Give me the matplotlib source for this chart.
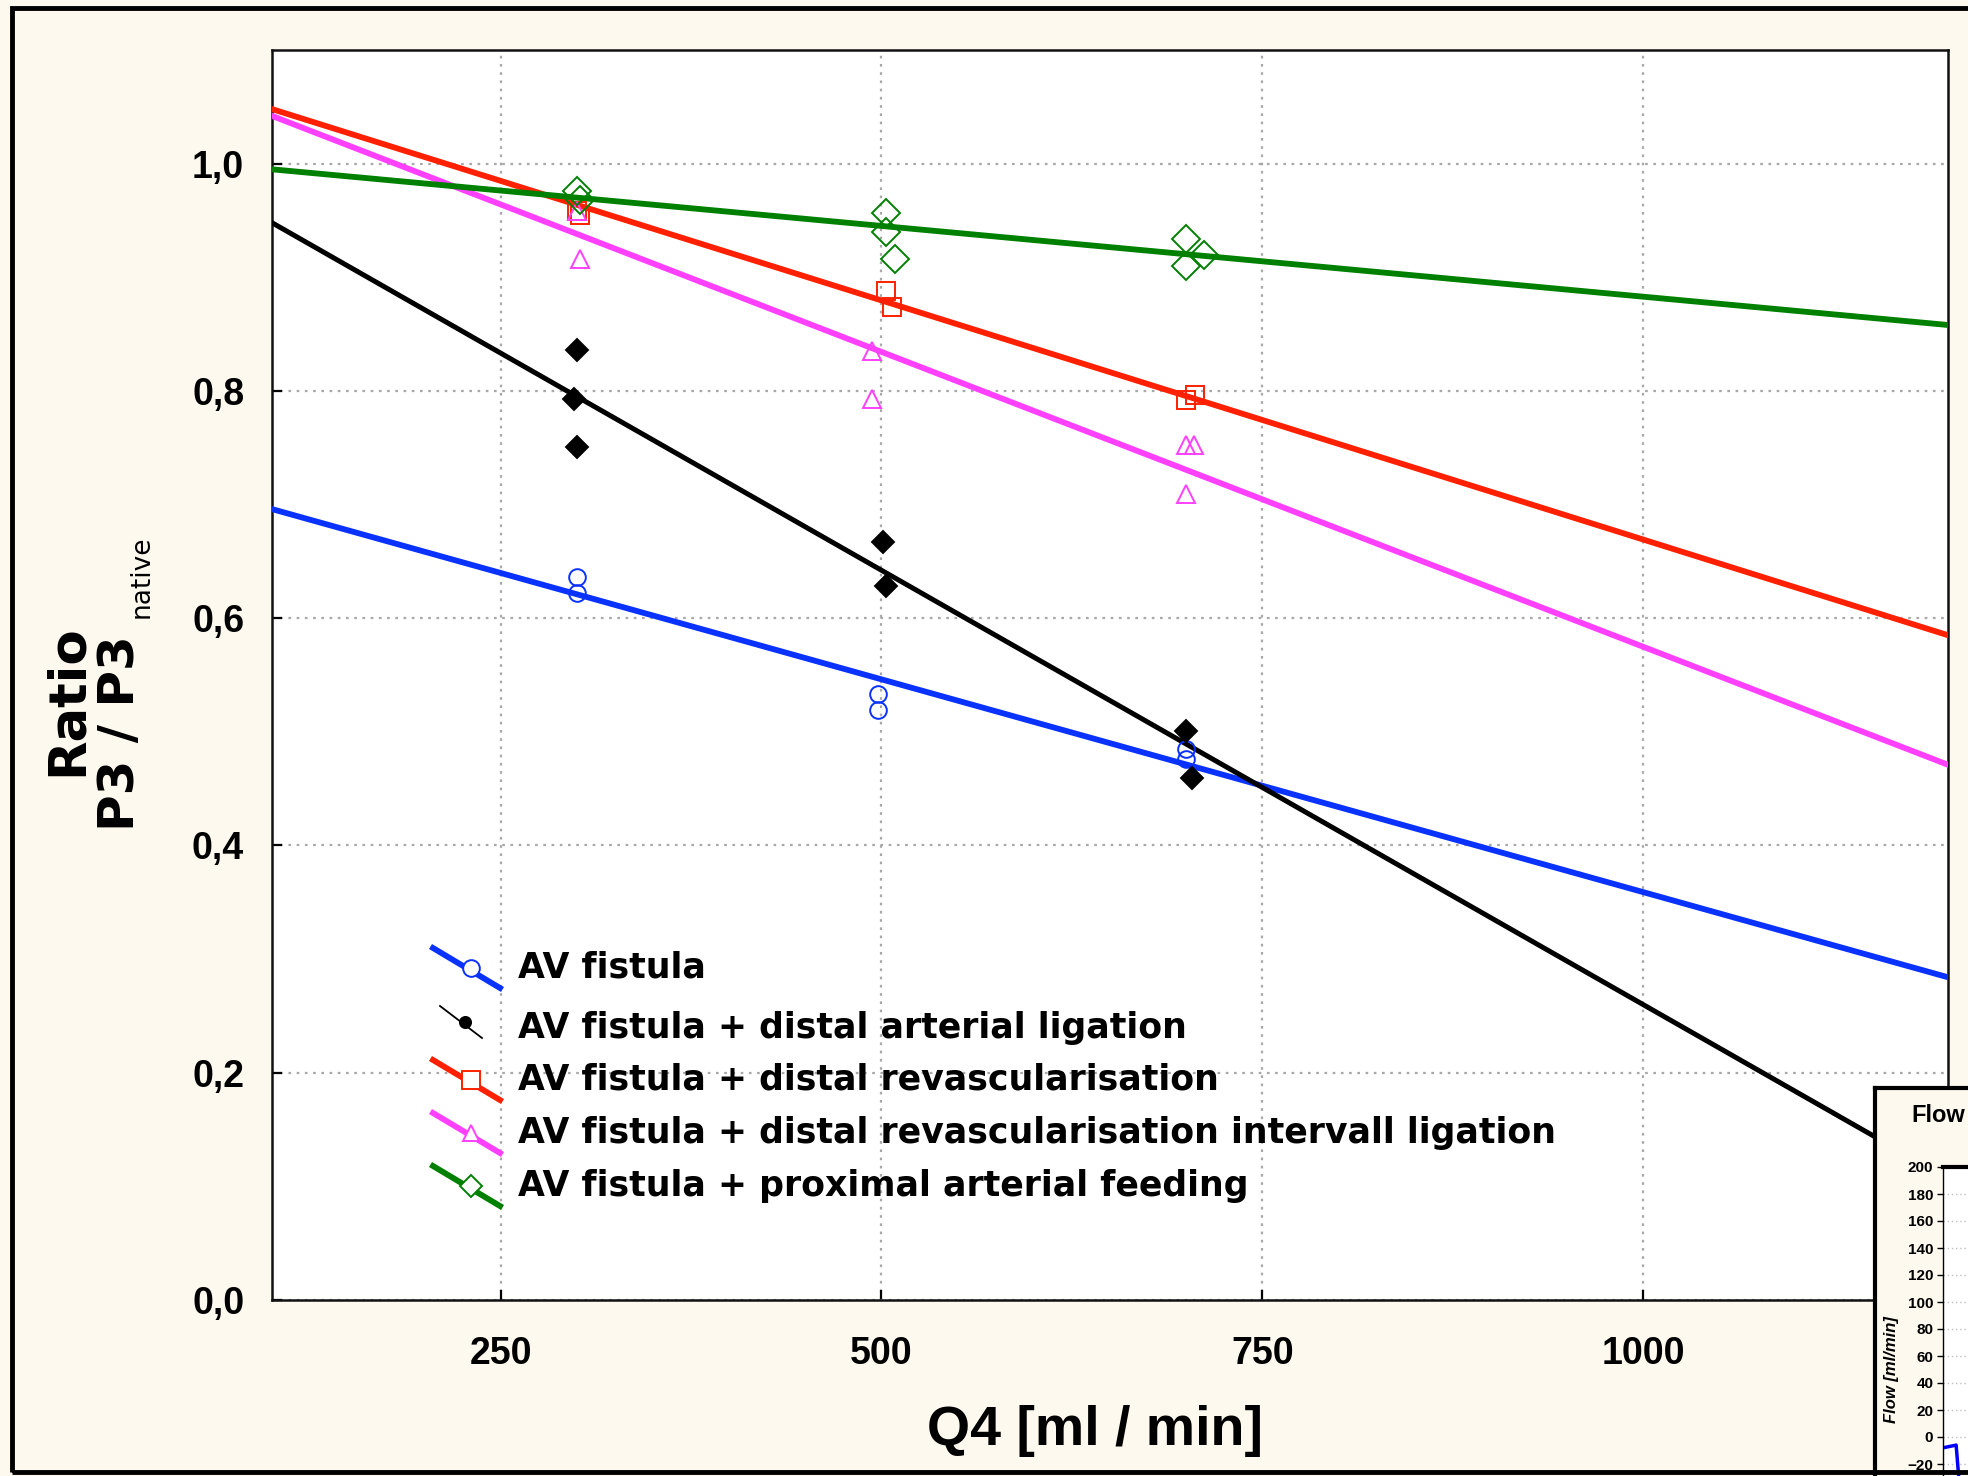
import matplotlib
matplotlib.use("Agg")
import matplotlib.pyplot as plt
from matplotlib.lines import Line2D
from matplotlib.patches import Rectangle
from matplotlib.ticker import FuncFormatter, FixedLocator

plt.rcParams['font.family'] = ['Liberation Sans', 'DejaVu Sans']

# ---------------- data ----------------
x_fit = [100, 1200]
fit_blue = [0.696, 0.284]
fit_black = [0.948, 0.107]
fit_red = [1.048, 0.585]
fit_magenta = [1.042, 0.471]
fit_green = [0.995, 0.858]

blue_x = [300, 300, 498, 498, 700, 700]
blue_y = [0.636, 0.622, 0.533, 0.519, 0.485, 0.476]
black_x = [300, 298, 300, 501, 503, 700, 704]
black_y = [0.836, 0.793, 0.751, 0.667, 0.628, 0.501, 0.459]
red_x = [300, 302, 503, 507, 700, 706]
red_y = [0.958, 0.955, 0.888, 0.874, 0.792, 0.796]
mag_x = [300, 302, 494, 494, 700, 705, 700]
mag_y = [0.958, 0.916, 0.835, 0.793, 0.752, 0.752, 0.709]
green_x = [300, 302, 503, 503, 509, 700, 700, 712]
green_y = [0.976, 0.968, 0.957, 0.940, 0.916, 0.934, 0.910, 0.920]

legend_labels = ["AV fistula",
                 "AV fistula + distal arterial ligation",
                 "AV fistula + distal revascularisation",
                 "AV fistula + distal revascularisation intervall ligation",
                 "AV fistula + proximal arterial feeding"]

x_ticks = [250, 500, 750, 1000]
y_ticks = [0.0, 0.2, 0.4, 0.6, 0.8, 1.0]

# inset (partial second chart)
inset_x = [0, 2, 2.4, 2.8, 5, 5.6, 8]
inset_y = [-8, -6, -30, -90, -90, -30, -10]
inset_ticks = [200, 180, 160, 140, 120, 100, 80, 60, 40, 20, 0, -20]

# ---------------- style ----------------
W, H = 1968, 1476
BG = '#FDF9EE'
C_BLUE = '#0A32FF'
C_BLACK = '#000000'
C_RED = '#FF2000'
C_MAG = '#FF40FF'
C_GREEN = '#008000'
WIDE = ['DejaVu Sans']


def fx(px):
    return px / W


def fy(py):
    return 1 - py / H


fig = plt.figure(figsize=(W / 100, H / 100), dpi=100, facecolor=BG)

# outer frame
fig.patches.append(Rectangle((fx(12), fy(1472)), fx(2100) - fx(12), fy(8) - fy(1472),
                             transform=fig.transFigure, fill=False, edgecolor='black',
                             linewidth=3.5, clip_on=False, zorder=0))

L, R, T, B = 272, 1948, 50, 1300
ax = fig.add_axes([fx(L), fy(B), fx(R) - fx(L), fy(T) - fy(B)], facecolor='white')
ax.set_xlim(100, 1200)
ax.set_ylim(0, 1.1)

ax.xaxis.set_major_locator(FixedLocator(x_ticks))
ax.yaxis.set_major_locator(FixedLocator(y_ticks))
ax.yaxis.set_major_formatter(FuncFormatter(lambda v, p: f"{v:.1f}".replace('.', ',')))
ax.grid(True, color='#A8A8A8', linestyle=(0, (1.2, 2.5)), linewidth=1.6)
ax.set_axisbelow(True)
ax.tick_params(direction='in', length=7, width=1.6, labelsize=27, pad=26, top=False, right=False)
for lab in ax.get_xticklabels() + ax.get_yticklabels():
    lab.set_fontweight('bold')
ax.tick_params(axis='y', pad=20)
for s in ax.spines.values():
    s.set_linewidth(1.8)
    s.set_color('#111111')

lw = 4.2
ax.plot(x_fit, fit_blue, color=C_BLUE, lw=lw, zorder=3)
ax.plot(x_fit, fit_black, color=C_BLACK, lw=3.6, zorder=3)
ax.plot(x_fit, fit_red, color=C_RED, lw=lw, zorder=3)
ax.plot(x_fit, fit_magenta, color=C_MAG, lw=lw, zorder=3)
ax.plot(x_fit, fit_green, color=C_GREEN, lw=lw, zorder=3)

ms_kw = dict(linestyle='none', markeredgewidth=1.4, zorder=4)
ax.plot(blue_x, blue_y, marker='o', markersize=12, markerfacecolor='none', markeredgecolor=C_BLUE, **ms_kw)
ax.plot(black_x, black_y, marker='D', markersize=11, markerfacecolor=C_BLACK, markeredgecolor=C_BLACK, **ms_kw)
ax.plot(red_x, red_y, marker='s', markersize=13, markerfacecolor='none', markeredgecolor=C_RED, **ms_kw)
ax.plot(mag_x, mag_y, marker='^', markersize=13, markerfacecolor='none', markeredgecolor=C_MAG, **ms_kw)
ax.plot(green_x, green_y, marker='D', markersize=14, markerfacecolor='none', markeredgecolor=C_GREEN, **ms_kw)

# legend drawn manually in figure pixels
rows_y = [968, 1028, 1080, 1133, 1186]
handles = [
    (C_BLUE, 4.2, 'o', 'none', 12),
    (C_BLACK, 1.3, 'o', C_BLACK, 8),
    (C_RED, 4.2, 's', 'none', 13),
    (C_MAG, 4.2, '^', 'none', 12),
    (C_GREEN, 4.2, 'D', 'none', 11),
]
for (col, hlw, mk, mfc, ms), ry, lab in zip(handles, rows_y, legend_labels):
    if col == C_BLACK:
        xs, ys = [440, 482], [ry - 22, ry + 10]
    else:
        xs, ys = [433, 500], [ry - 20, ry + 20]
    fig.add_artist(Line2D([fx(xs[0]), fx(xs[1])], [fy(ys[0]), fy(ys[1])], color=col, lw=hlw,
                          transform=fig.transFigure, zorder=5))
    mx = (xs[0] + xs[1]) / 2 + 4
    my = (ys[0] + ys[1]) / 2
    fig.add_artist(Line2D([fx(mx)], [fy(my)], marker=mk, markersize=ms, markerfacecolor=mfc if mfc != 'none' else 'white',
                          markeredgecolor=col, markeredgewidth=1.4, linestyle='none',
                          transform=fig.transFigure, zorder=6))
    fig.text(fx(518), fy(ry), lab, fontsize=25, fontweight='bold', family=WIDE,
             ha='left', va='center', zorder=6)

# axis labels
fig.text(fx(1095), fy(1431), "Q4 [ml / min]", fontsize=40, fontweight='bold', ha='center', va='center')
fig.text(fx(68), fy(700), "Ratio", fontsize=37, fontweight='bold', family=WIDE,
         rotation=90, ha='center', va='center')
fig.text(fx(120), fy(733), "P3 / P3", fontsize=36, fontweight='bold', family=WIDE,
         rotation=90, ha='center', va='center')
fig.text(fx(142), fy(577), "native", fontsize=19, family=WIDE, rotation=90, ha='center', va='center')

# ---------------- partial inset from another chart ----------------
panel = fig.add_axes([fx(1875), fy(1800), fx(2600) - fx(1875), fy(1088) - fy(1800)], facecolor=BG)
panel.set_xticks([])
panel.set_yticks([])
for s in panel.spines.values():
    s.set_linewidth(3)
    s.set_color('black')
panel.text(0.05, (1800 - 1116) / (1800 - 1088), "Flow", transform=panel.transAxes,
           fontsize=17, fontweight='bold', ha='left', va='center')

iax = fig.add_axes([fx(1943), fy(1572), fx(2600) - fx(1943), fy(1167) - fy(1572)], facecolor='white')
iax.set_ylim(-100, 200)
iax.set_xlim(0, 100)
iax.set_yticks(inset_ticks)
iax.set_xticks([])
iax.yaxis.grid(True, color='#C0C0C0', linestyle=(0, (1, 2)), linewidth=1)
iax.tick_params(axis='y', direction='out', length=4, width=1, labelsize=11, pad=3)
for lab in iax.get_yticklabels():
    lab.set_fontweight('bold')
iax.spines['top'].set_linewidth(3)
iax.spines['left'].set_linewidth(1)
iax.plot(inset_x, inset_y, color='#0000FF', lw=2.5)
iax.set_ylabel("Flow [ml/min]", fontsize=12, fontweight='bold', fontstyle='italic', labelpad=6)

fig.savefig("out.png", dpi=100, facecolor=BG)
